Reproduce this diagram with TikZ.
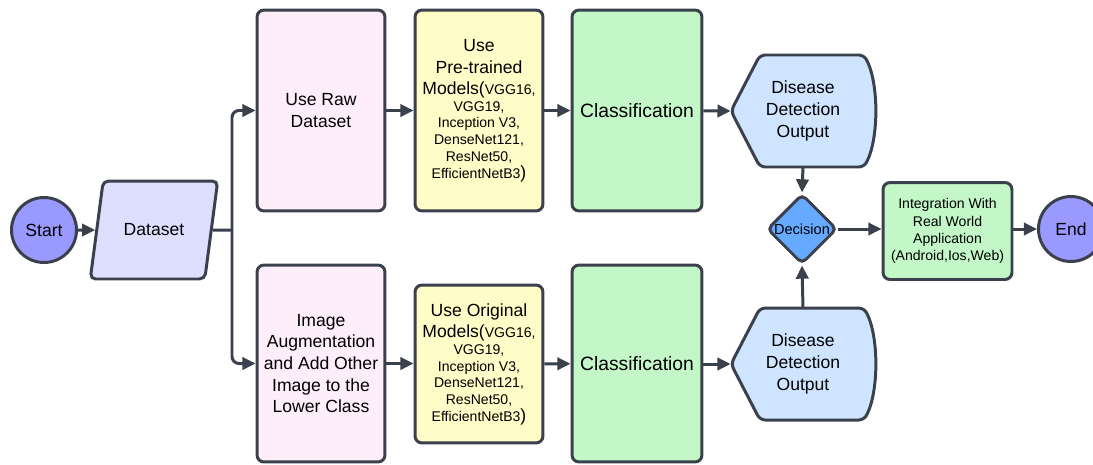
\documentclass[tikz,border=0pt]{standalone}
\usepackage{fontspec}
\setmainfont{Liberation Sans}
\usetikzlibrary{shapes.geometric,arrows.meta}

\definecolor{edgegray}{RGB}{58,65,76}
\definecolor{startblue}{RGB}{153,153,255}
\definecolor{datalilac}{RGB}{222,222,255}
\definecolor{rawpink}{RGB}{253,238,249}
\definecolor{modelyellow}{RGB}{255,252,199}
\definecolor{classgreen}{RGB}{195,247,200}
\definecolor{outblue}{RGB}{207,228,255}
\definecolor{decblue}{RGB}{102,170,255}

\newcommand{\bigtxt}{\fontsize{10}{12.3}\selectfont}
\newcommand{\smalltxt}{\fontsize{8}{9.5}\selectfont}

\begin{document}
\begin{tikzpicture}[x=0.02cm, y=-0.02cm,
    every node/.style={text=black, font=\bigtxt},
    terminal/.style={circle, draw=edgegray, line width=1.7pt, fill=startblue, minimum size=1.3cm, inner sep=0pt},
    databox/.style={trapezium, trapezium left angle=69, trapezium right angle=111, trapezium stretches=true,
      draw=edgegray, line width=1.7pt, fill=datalilac, rounded corners=3pt, minimum width=2.56cm, minimum height=1.96cm},
    stagebox/.style={draw=edgegray, line width=1.7pt, rounded corners=4pt, minimum width=2.56cm, align=center, inner sep=2pt},
    outshape/.style={draw=edgegray, line width=1.7pt, fill=outblue, rounded corners=3pt},
    outtext/.style={minimum width=2.88cm, minimum height=2.24cm, align=center, inner sep=0pt},
    decbox/.style={diamond, draw=edgegray, line width=1.7pt, fill=decblue, rounded corners=3pt, minimum size=1.4cm, inner sep=0pt, font=\fontsize{8.3}{10}\selectfont},
    arr/.style={draw=edgegray, line width=1.7pt, -{Triangle[length=7.5pt,width=7pt]}, rounded corners=4pt}]

    \useasboundingbox (0,0) rectangle (1093,464);

    % start and data
    \node[terminal] (start) at (44,230) {Start};
    \node[databox] (dataset) at (154,230) {Dataset};
    \coordinate (split) at (232,230);

    % upper branch
    \node[stagebox, fill=rawpink, minimum height=4.02cm] (raw) at (321,110.5) {Use Raw\\Dataset};
    \node[stagebox, fill=modelyellow, minimum height=4.02cm, font=\smalltxt] (pretrained) at (479,110.5)
      {{\bigtxt Use}\\[2.8pt]{\bigtxt Pre-trained}\\[2.8pt]{\bigtxt Models(}VGG16,\\VGG19,\\Inception V3,\\DenseNet121,\\ResNet50,\\EfficientNetB3{\bigtxt )}};
    \node[stagebox, fill=classgreen, minimum width=2.6cm, minimum height=4.02cm, font=\fontsize{11}{13}\selectfont] (class1) at (637,110.5) {Classification};

    % lower branch
    \node[stagebox, fill=rawpink, minimum height=3.94cm] (augment) at (321,363.5)
      {Image\\Augmentation\\and Add Other\\Image to the\\Lower Class};
    \node[stagebox, fill=modelyellow, minimum height=3.16cm, font=\smalltxt] (original) at (479,364)
      {{\bigtxt Use Original}\\[2.8pt]{\bigtxt Models(}VGG16,\\VGG19,\\Inception V3,\\DenseNet121,\\ResNet50,\\EfficientNetB3{\bigtxt )}};
    \node[stagebox, fill=classgreen, minimum width=2.6cm, minimum height=3.94cm, font=\fontsize{11}{13}\selectfont] (class2) at (637,363.5) {Classification};

    % output shapes
    \foreach \y/\n in {111/1, 364/2} {
      \draw[outshape] (731,\y) -- (760,\y-56) -- (864,\y-56) .. controls (879,\y-28) and (879,\y+28) .. (864,\y+56) -- (760,\y+56) -- cycle;
      \node[outtext] (out\n) at (803,\y) {Disease\\Detection\\Output};
    }

    \node[decbox] (decision) at (802,229) {Decision};
    \node[stagebox, fill=classgreen, minimum width=2.58cm, minimum height=1.94cm, font=\fontsize{8}{9.8}\selectfont] (integration) at (947.5,231)
      {Integration With\\Real World\\Application\\(Android,Ios,Web)};
    \node[terminal] (end) at (1071,229) {End};

    % connectors
    \draw[arr] (start) -- (dataset);
    \draw[arr, -] (dataset.east) -- (split);
    \draw[arr] (split) |- (raw);
    \draw[arr] (split) |- (augment);
    \draw[arr] (raw) -- (pretrained);
    \draw[arr] (augment) -- (augment -| original.west);
    \draw[arr] (pretrained) -- (class1);
    \draw[arr] (original) -- (class2);
    \draw[arr] (class1) -- (out1.west);
    \draw[arr] (class2.east |- out2) -- (out2.west);
    \draw[arr] (out1.south) -- (decision.north);
    \draw[arr] (out2.north) -- (decision.south);
    \draw[arr] (decision.east) -- (decision.east -| integration.west);
    \draw[arr] (integration.east |- end) -- (end.west);
\end{tikzpicture}
\end{document}
